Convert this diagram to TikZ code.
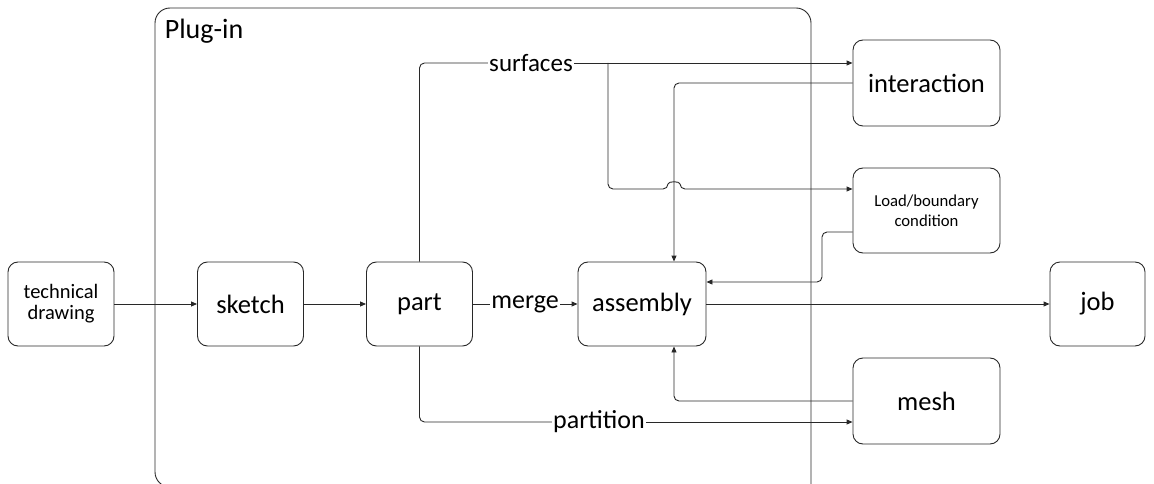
\documentclass[tikz,border=0pt]{standalone}
\usepackage{fontspec}
\setmainfont{Carlito}
\usetikzlibrary{arrows.meta}
\begin{document}
\begin{tikzpicture}[x=1pt,y=-1pt,
  line width=0.9pt, draw={rgb,255:red,40;green,40;blue,40},
  box/.style={draw, rounded corners=10pt, line width=0.9pt, align=center, inner sep=0pt,
    minimum height=84pt, font=\fontsize{26.5}{30}\selectfont},
  lab/.style={inner sep=1pt, font=\fontsize{26}{30}\selectfont},
  arr/.style={-{Triangle[length=6pt,width=5pt]}, rounded corners=5pt},
  con/.style={rounded corners=5pt}]
\useasboundingbox (0,0) rectangle (1154,484);
% plug-in container
\draw[rounded corners=15pt] (811,484) -- (811,8) -- (155,8) -- (155,487) -- (220,487);
\node[anchor=west, font=\fontsize{28}{30}\selectfont] (plugin) at (161,31) {Plug-in};
% nodes
\node[box, minimum width=106pt, font=\fontsize{20.5}{23}\selectfont] (tech) at (61,304) {technical\\[-2pt]drawing};
\node[box, minimum width=106pt] (sketch) at (250.5,304) {sketch};
\node[box, minimum width=106pt] (part) at (419.5,304) {part};
\node[box, minimum width=128pt] (assembly) at (642,304) {assembly};
\node[box, minimum width=147pt, minimum height=86pt] (interaction) at (926.5,83) {interaction};
\node[box, minimum width=147pt, minimum height=85pt, font=\fontsize{16.7}{20}\selectfont] (load) at (926.5,210.5) {Load/boundary\\[0pt]condition};
\node[box, minimum width=95pt] (job) at (1097.5,304) {job};
\node[box, minimum width=147pt, minimum height=86pt] (mesh) at (926.5,401) {mesh};
% labels on connectors
\node[lab, font=\fontsize{25}{30}\selectfont] (surf) at (531,63) {surfaces};
\node[lab] (merge) at (525,304) {merge};
\node[lab] (parti) at (599,422) {partition};
\coordinate (branch) at (608,63);
\coordinate (lbturn) at (822,257);
% connectors
\draw[arr] (tech) -- (sketch);
\draw[arr] (sketch) -- (part);
\draw (part) -- (merge);
\draw[arr] (merge) -- (assembly);
\draw[arr] (assembly) -- (job);
\draw[con] (part.north) |- (surf.west);
\draw[arr] (surf.east) -- ([yshift=20pt]interaction.west);
\draw[arr] (branch) -- ++(0,126) -- (668,189) .. controls (668,181) and (680,181) .. (680,189) -- ([yshift=21.5pt]load.west);
\draw[arr] (interaction.west) -| ([xshift=32pt]assembly.north);
\draw[arr] ([yshift=-21.5pt]load.west) -| (lbturn) |- ([yshift=22pt]assembly.east);
\draw[arr] (mesh.west) -| ([xshift=32pt]assembly.south);
\draw[con] (part.south) |- (parti.west);
\draw[arr] (parti.east) -- ([yshift=-21pt]mesh.west);
\end{tikzpicture}
\end{document}
